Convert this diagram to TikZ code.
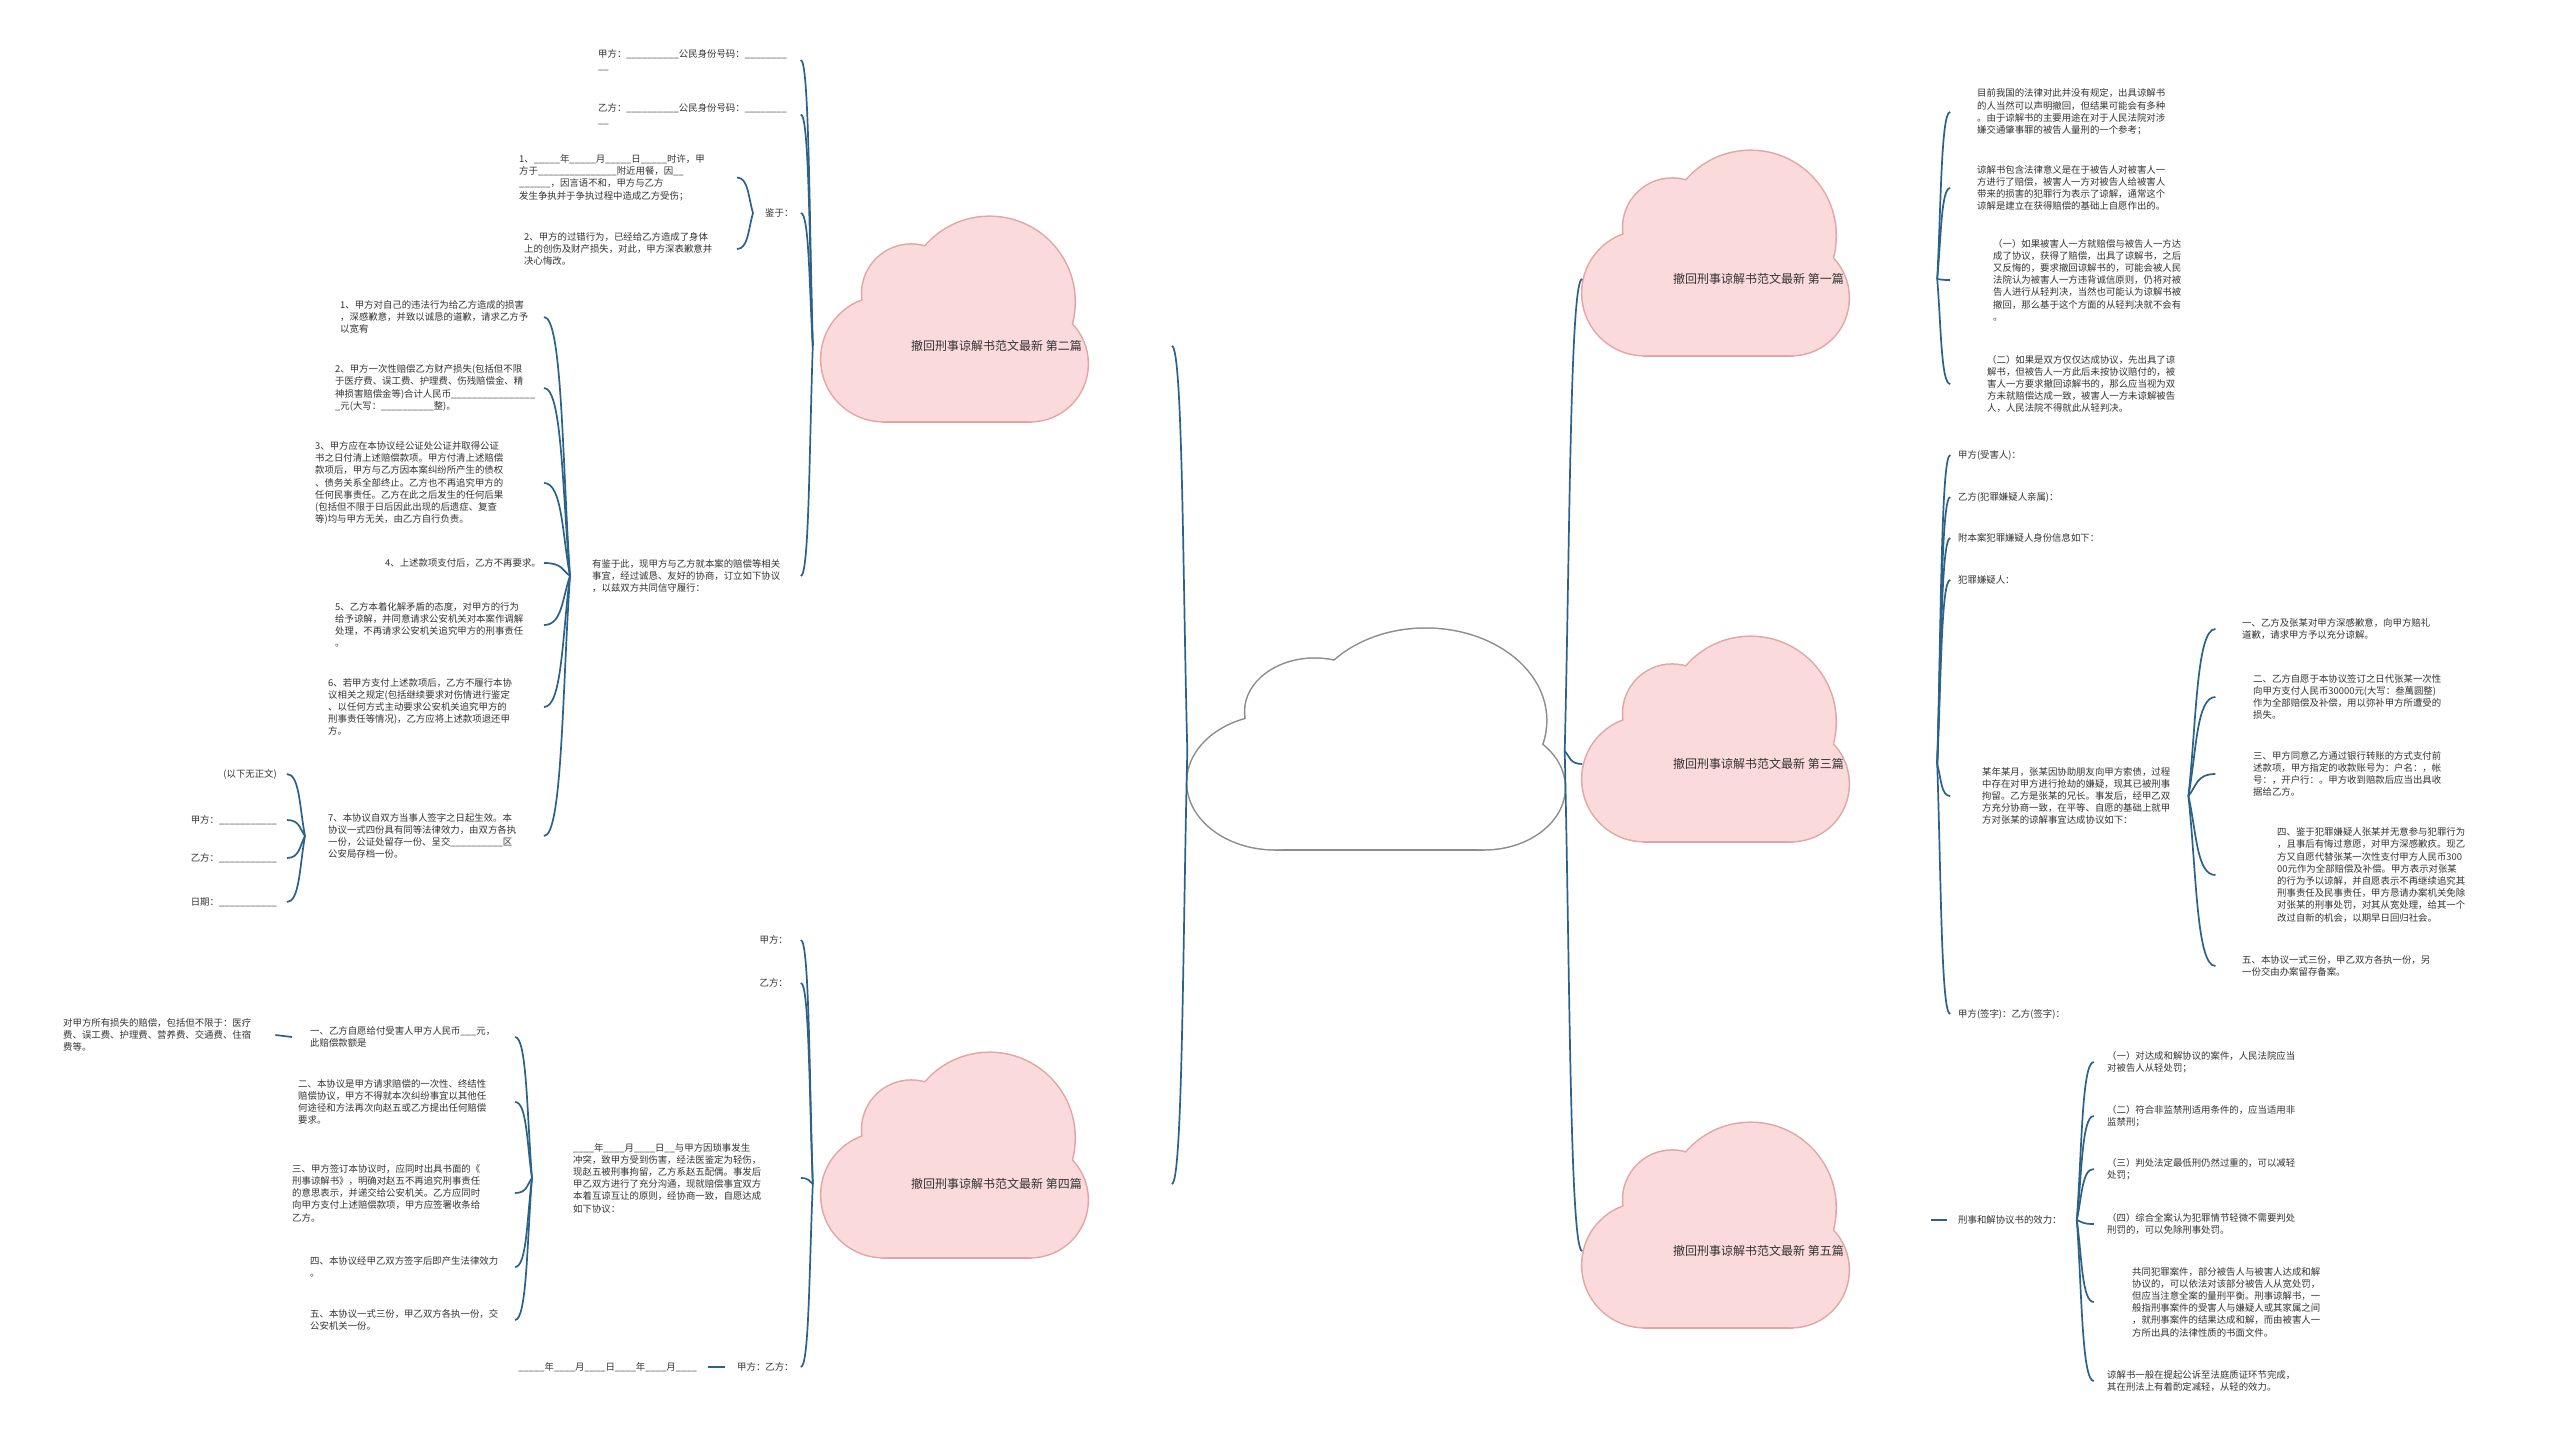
\documentclass[tikz,border=0pt]{standalone}
\usepackage{fontspec}
\setmainfont{Noto Sans CJK SC}
\usetikzlibrary{calc}
\definecolor{lkc}{HTML}{2C6289}
\definecolor{cpink}{HTML}{FADADA}
\definecolor{cpinkb}{HTML}{E2A5A5}
\definecolor{cgrayb}{HTML}{8C8C8C}
\definecolor{txtc}{HTML}{333333}
\newcommand\blk[1]{\foreach\nn in {1,...,#1}{\_}}
\newcommand\cc[2]{\draw[lk] let \p1=(#1), \p2=(#2) in (\p2) .. controls ({\x2+0.7*(\x1-\x2)},\y2) and ({\x1+0.3*(\x2-\x1)},{\y1+0.45*(\y2-\y1)}) .. (\p1);}
\newcommand\bL[4]{\cc{$(#1.west)+(-#2,0)$}{$(#4.east-|#1.west)+(-#3,0)$}}
\newcommand\bR[4]{\cc{$(#1.east)+(#2,0)$}{$(#4.west-|#1.east)+(#3,0)$}}
\newcommand\cloudpath[1]{%
  \path[#1] (-43.5,24.5) circle[radius=38];
  \path[#1] (-26.5,-15.5) circle[radius=30];
  \path[#1] (21.5,-10.5) circle[radius=52];
  \path[#1] (46.5,27.5) circle[radius=35];
  \path[#1] (-43.5,10) rectangle (46.5,62.5);}
\newcommand\cloudat[6]{\begin{scope}[shift={(#1,#2)},xscale=#3,yscale=#4]\cloudpath{draw=#6,line width=3pt}\cloudpath{fill=#5}\end{scope}}
\tikzset{
  lk/.style={draw=lkc,line width=1.7pt},
  t/.style={inner sep=0pt,align=left,font=\fontsize{9.4}{12.2}\selectfont,text=txtc},
  bl/.style={inner sep=0pt,minimum width=351pt,minimum height=40pt,font=\fontsize{12}{14}\selectfont,text=txtc}
}
\begin{document}
\begin{tikzpicture}[x=1pt,y=-1pt]
\fill[white] (0,0) rectangle (2560,1437);
\useasboundingbox (0,0) rectangle (2560,1437);
% clouds
\cloudat{1376}{739}{2.314}{1.764}{white}{cgrayb}
\cloudat{954.5}{319}{1.633}{1.633}{cpink}{cpinkb}
\cloudat{954.5}{1155}{1.633}{1.633}{cpink}{cpinkb}
\cloudat{1715.5}{253}{1.633}{1.633}{cpink}{cpinkb}
\cloudat{1715.5}{739}{1.633}{1.633}{cpink}{cpinkb}
\cloudat{1715.5}{1225}{1.633}{1.633}{cpink}{cpinkb}
\node[inner sep=0pt,minimum width=377pt,minimum height=100pt] (root) at (1376,751) {};
\node[bl] (b2) at (996.5,346) {撤回刑事谅解书范文最新 第二篇};
\node[bl] (b4) at (996.5,1184) {撤回刑事谅解书范文最新 第四篇};
\node[bl] (b1) at (1758.5,279) {撤回刑事谅解书范文最新 第一篇};
\node[bl] (b3) at (1758.5,764) {撤回刑事谅解书范文最新 第三篇};
\node[bl] (b5) at (1758.5,1251) {撤回刑事谅解书范文最新 第五篇};
% ---- branch 2
\node[t,anchor=west] (n2a) at (598,60) {甲方：\blk{10}公民身份号码：\blk{8}\\\blk{2}};
\node[t,anchor=west] (n2b) at (598,114.5) {乙方：\blk{10}公民身份号码：\blk{8}\\\blk{2}};
\node[t,anchor=west] (n2c) at (765,213) {鉴于：};
\node[t,anchor=west] (n2d) at (592,576) {有鉴于此，现甲方与乙方就本案的赔偿等相关\\事宜，经过诚恳、友好的协商，订立如下协议\\，以兹双方共同信守履行：};
\node[t,anchor=west] (n2c1) at (519,177.5) {1、\blk{5}年\blk{5}月\blk{5}日\blk{5}时许，甲\\方于\blk{15}附近用餐，因\blk{2}\\\blk{6}，因言语不和，甲方与乙方\\发生争执并于争执过程中造成乙方受伤；};
\node[t,anchor=west] (n2c2) at (524,249) {2、甲方的过错行为，已经给乙方造成了身体\\上的创伤及财产损失，对此，甲方深表歉意并\\决心悔改。};
\node[t,anchor=west] (i1) at (340,317) {1、甲方对自己的违法行为给乙方造成的损害\\，深感歉意，并致以诚恳的道歉，请求乙方予\\以宽宥};
\node[t,anchor=west] (i2) at (335,388) {2、甲方一次性赔偿乙方财产损失(包括但不限\\于医疗费、误工费、护理费、伤残赔偿金、精\\神损害赔偿金等)合计人民币\blk{16}\\\_元(大写：\blk{10}整)。};
\node[t,anchor=west] (i3) at (315,483) {3、甲方应在本协议经公证处公证并取得公证\\书之日付清上述赔偿款项。甲方付清上述赔偿\\款项后，甲方与乙方因本案纠纷所产生的债权\\、债务关系全部终止。乙方也不再追究甲方的\\任何民事责任。乙方在此之后发生的任何后果\\(包括但不限于日后因此出现的后遗症、复查\\等)均与甲方无关，由乙方自行负责。};
\node[t,anchor=west] (i4) at (385,563) {4、上述款项支付后，乙方不再要求。};
\node[t,anchor=west] (i5) at (335,625) {5、乙方本着化解矛盾的态度，对甲方的行为\\给予谅解，并同意请求公安机关对本案作调解\\处理，不再请求公安机关追究甲方的刑事责任\\。};
\node[t,anchor=west] (i6) at (328,707) {6、若甲方支付上述款项后，乙方不履行本协\\议相关之规定(包括继续要求对伤情进行鉴定\\、以任何方式主动要求公安机关追究甲方的\\刑事责任等情况)，乙方应将上述款项退还甲\\方。};
\node[t,anchor=west] (i7) at (328,836) {7、本协议自双方当事人签字之日起生效。本\\协议一式四份具有同等法律效力，由双方各执\\一份，公证处留存一份、呈交\blk{10}区\\公安局存档一份。};
\node[t,anchor=east] (q1) at (277,774) {(以下无正文)};
\node[t,anchor=east] (q2) at (277,820) {甲方：\blk{11}};
\node[t,anchor=east] (q3) at (277,858) {乙方：\blk{11}};
\node[t,anchor=east] (q4) at (277,902) {日期：\blk{11}};
% ---- branch 4
\node[t,anchor=east] (n4a) at (788,940) {甲方：};
\node[t,anchor=east] (n4b) at (788,983) {乙方：};
\node[t,anchor=west] (n4c) at (573,1178) {\blk{4}年\blk{4}月\blk{4}日\blk{2}与甲方因琐事发生\\冲突，致甲方受到伤害，经法医鉴定为轻伤，\\现赵五被刑事拘留，乙方系赵五配偶。事发后\\甲乙双方进行了充分沟通，现就赔偿事宜双方\\本着互谅互让的原则，经协商一致，自愿达成\\如下协议：};
\node[t,anchor=west] (n4d) at (737,1367) {甲方：乙方：};
\node[t,anchor=east] (n4e) at (697,1367) {\blk{5}年\blk{4}月\blk{4}日\blk{4}年\blk{4}月\blk{4}};
\node[t,anchor=west] (j1) at (310,1037) {一、乙方自愿给付受害人甲方人民币\blk{3}元，\\此赔偿款额是};
\node[t,anchor=west] (j2) at (298,1102) {二、本协议是甲方请求赔偿的一次性、终结性\\赔偿协议，甲方不得就本次纠纷事宜以其他任\\何途径和方法再次向赵五或乙方提出任何赔偿\\要求。};
\node[t,anchor=west] (j3) at (292,1193) {三、甲方签订本协议时，应同时出具书面的《\\刑事谅解书》，明确对赵五不再追究刑事责任\\的意思表示，并递交给公安机关。乙方应同时\\向甲方支付上述赔偿款项，甲方应签署收条给\\乙方。};
\node[t,anchor=west] (j4) at (310,1267) {四、本协议经甲乙双方签字后即产生法律效力\\。};
\node[t,anchor=west] (j5) at (310,1320) {五、本协议一式三份，甲乙双方各执一份，交\\公安机关一份。};
\node[t,anchor=west] (j1a) at (63,1035) {对甲方所有损失的赔偿，包括但不限于：医疗\\费、误工费、护理费、营养费、交通费、住宿\\费等。};
% ---- branch 1
\node[t,anchor=west] (r1a) at (1977,112) {目前我国的法律对此并没有规定，出具谅解书\\的人当然可以声明撤回，但结果可能会有多种\\。由于谅解书的主要用途在对于人民法院对涉\\嫌交通肇事罪的被告人量刑的一个参考；};
\node[t,anchor=west] (r1b) at (1977,188) {谅解书包含法律意义是在于被告人对被害人一\\方进行了赔偿，被害人一方对被告人给被害人\\带来的损害的犯罪行为表示了谅解，通常这个\\谅解是建立在获得赔偿的基础上自愿作出的。};
\node[t,anchor=west] (r1c) at (1993,280) {（一）如果被害人一方就赔偿与被告人一方达\\成了协议，获得了赔偿，出具了谅解书，之后\\又反悔的，要求撤回谅解书的，可能会被人民\\法院认为被害人一方违背诚信原则，仍将对被\\告人进行从轻判决，当然也可能认为谅解书被\\撤回，那么基于这个方面的从轻判决就不会有\\。};
\node[t,anchor=west] (r1d) at (1987,384) {（二）如果是双方仅仅达成协议，先出具了谅\\解书，但被告人一方此后未按协议赔付的，被\\害人一方要求撤回谅解书的，那么应当视为双\\方未就赔偿达成一致，被害人一方未谅解被告\\人，人民法院不得就此从轻判决。};
% ---- branch 3
\node[t,anchor=west] (r3a) at (1958,455) {甲方(受害人)：};
\node[t,anchor=west] (r3b) at (1958,497) {乙方(犯罪嫌疑人亲属)：};
\node[t,anchor=west] (r3c) at (1958,538) {附本案犯罪嫌疑人身份信息如下：};
\node[t,anchor=west] (r3d) at (1958,580) {犯罪嫌疑人：};
\node[t,anchor=west] (r3e) at (1982,796) {某年某月，张某因协助朋友向甲方索债，过程\\中存在对甲方进行抢劫的嫌疑，现其已被刑事\\拘留。乙方是张某的兄长。事发后，经甲乙双\\方充分协商一致，在平等、自愿的基础上就甲\\方对张某的谅解事宜达成协议如下：};
\node[t,anchor=west] (r3f) at (1958,1014) {甲方(签字)：乙方(签字)：};
\node[t,anchor=west] (k1) at (2242,629) {一、乙方及张某对甲方深感歉意，向甲方赔礼\\道歉，请求甲方予以充分谅解。};
\node[t,anchor=west] (k2) at (2253,697) {二、乙方自愿于本协议签订之日代张某一次性\\向甲方支付人民币30000元(大写：叁萬圆整)\\作为全部赔偿及补偿，用以弥补甲方所遭受的\\损失。};
\node[t,anchor=west] (k3) at (2253,774) {三、甲方同意乙方通过银行转账的方式支付前\\述款项，甲方指定的收款账号为：户名：，帐\\号：，开户行：。甲方收到赔款后应当出具收\\据给乙方。};
\node[t,anchor=west] (k4) at (2277,875) {四、鉴于犯罪嫌疑人张某并无意参与犯罪行为\\，且事后有悔过意愿，对甲方深感歉疚。现乙\\方又自愿代替张某一次性支付甲方人民币300\\00元作为全部赔偿及补偿。甲方表示对张某\\的行为予以谅解，并自愿表示不再继续追究其\\刑事责任及民事责任，甲方恳请办案机关免除\\对张某的刑事处罚，对其从宽处理，给其一个\\改过自新的机会，以期早日回归社会。};
\node[t,anchor=west] (k5) at (2242,966) {五、本协议一式三份，甲乙双方各执一份，另\\一份交由办案留存备案。};
% ---- branch 5
\node[t,anchor=west] (r5a) at (1958,1220) {刑事和解协议书的效力：};
\node[t,anchor=west] (m1) at (2107,1062) {（一）对达成和解协议的案件，人民法院应当\\对被告人从轻处罚；};
\node[t,anchor=west] (m2) at (2107,1116) {（二）符合非监禁刑适用条件的，应当适用非\\监禁刑；};
\node[t,anchor=west] (m3) at (2107,1169) {（三）判处法定最低刑仍然过重的，可以减轻\\处罚；};
\node[t,anchor=west] (m4) at (2107,1224) {（四）综合全案认为犯罪情节轻微不需要判处\\刑罚的，可以免除刑事处罚。};
\node[t,anchor=west] (m5) at (2132,1302) {共同犯罪案件，部分被告人与被害人达成和解\\协议的，可以依法对该部分被告人从宽处罚，\\但应当注意全案的量刑平衡。刑事谅解书，一\\般指刑事案件的受害人与嫌疑人或其家属之间\\，就刑事案件的结果达成和解，而由被害人一\\方所出具的法律性质的书面文件。};
\node[t,anchor=west] (m6) at (2107,1381) {谅解书一般在提起公诉至法庭质证环节完成，\\其在刑法上有着酌定减轻，从轻的效力。};
% ---- connectors
\bL{root}{0}{15.5}{b2}\bL{root}{0}{15.5}{b4}
\bR{root}{0}{17.5}{b1}\bR{root}{0}{17.5}{b3}\bR{root}{0}{17.5}{b5}
\foreach \c in {n2a,n2b,n2c,n2d}{\bL{b2}{8}{20}{\c}}
\foreach \c in {n2c1,n2c2}{\bL{n2c}{12}{28}{\c}}
\foreach \c in {i1,i2,i3,i4,i5,i6,i7}{\bL{n2d}{22}{48}{\c}}
\foreach \c in {q1,q2,q3,q4}{\bL{i7}{23}{41}{\c}}
\foreach \c in {n4a,n4b,n4c,n4d}{\bL{b4}{8}{20}{\c}}
\foreach \c in {j1,j2,j3,j4,j5}{\bL{n4c}{41}{58}{\c}}
\draw[lk] ($(j1.west)+(-18,0)$) -- ($(j1a.east)+(24,0)$);
\draw[lk] ($(n4d.west)+(-12,0)$) -- ($(n4e.east)+(11,0)$);
\foreach \c in {r1a,r1b,r1c,r1d}{\bR{b1}{3}{16}{\c}}
\foreach \c in {r3a,r3b,r3c,r3d,r3e,r3f}{\bR{b3}{3}{16}{\c}}
\foreach \c in {k1,k2,k3,k4,k5}{\bR{r3e}{18}{45}{\c}}
\draw[lk] ($(r5a.west-|b5.east)+(-3,0)$) -- ($(r5a.west)+(-11,0)$);
\foreach \c in {m1,m2,m3,m4,m5,m6}{\bR{r5a}{15}{32}{\c}}
\end{tikzpicture}
\end{document}
